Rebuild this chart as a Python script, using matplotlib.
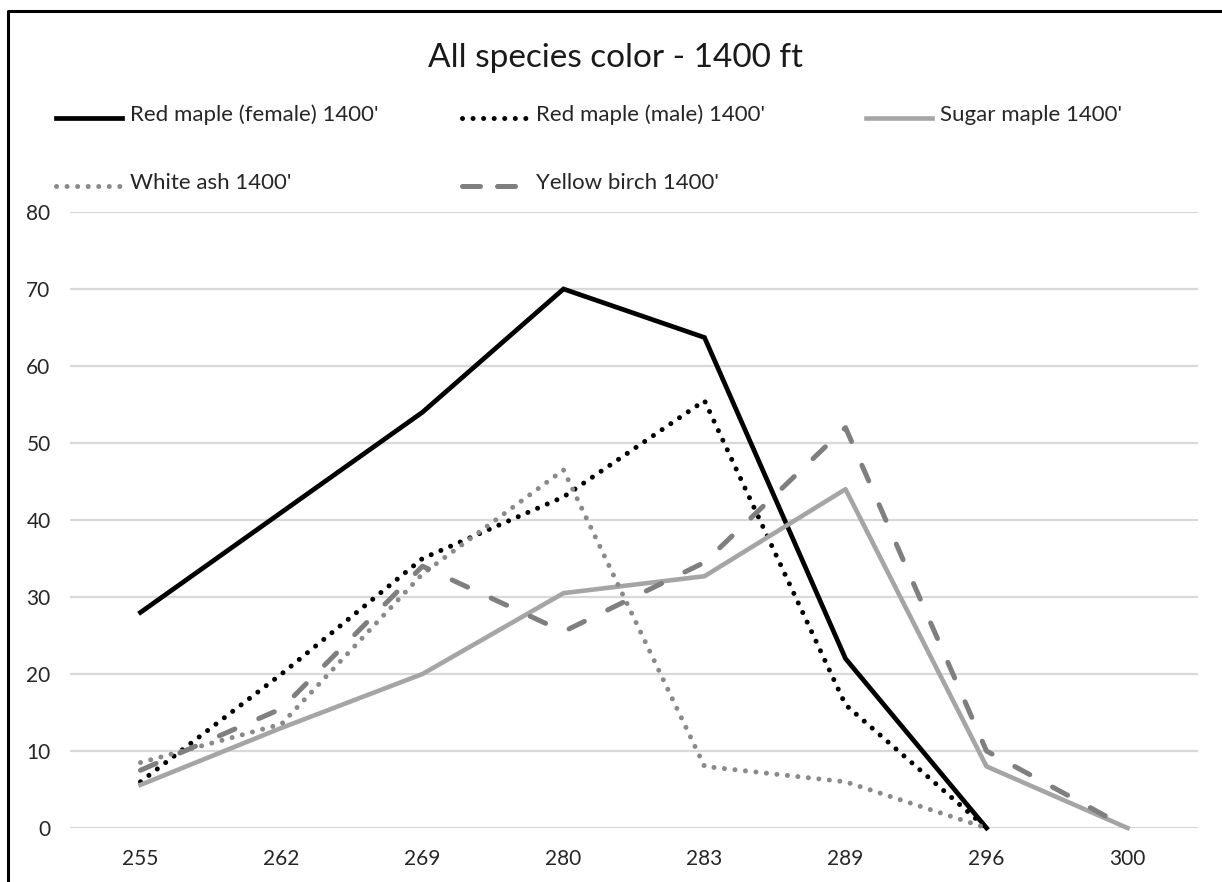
import numpy as np
import matplotlib
matplotlib.use('Agg')
import matplotlib.pyplot as plt
from matplotlib.lines import Line2D

plt.rcParams['font.family'] = ['Lato', 'DejaVu Sans']

# chart data
days = ['255', '262', '269', '280', '283', '289', '296', '300']
red_female = [28, 41, 54, 70, 63.7, 22, 0, np.nan]
red_male = [6, 20, 35, 43, 55.5, 16, 0, np.nan]
sugar_maple = [5.6, 13, 20, 30.5, 32.7, 44, 8, 0]
white_ash = [8.5, 13.5, 33, 46.5, 8, 6, 0, np.nan]
yellow_birch = [7.5, 15.5, 34, 25.5, 34.5, 52, 10, 0]

names = ["Red maple (female) 1400'", "Red maple (male) 1400'", "Sugar maple 1400'",
         "White ash 1400'", "Yellow birch 1400'"]
series = [red_female, red_male, sugar_maple, white_ash, yellow_birch]
styles = [
    dict(color='black', lw=3.4, ls='-', solid_joinstyle='miter'),
    dict(color='black', lw=3.6, ls=(0, (0.01, 2.1)), dash_capstyle='round'),
    dict(color='#a5a5a5', lw=3.3, ls='-'),
    dict(color='#8a8a8a', lw=3.6, ls=(0, (0.01, 2.1)), dash_capstyle='round'),
    dict(color='#7f7f7f', lw=3.6, ls=(0, (3.4, 5.2)), dash_capstyle='round'),
]

W, H = 1222, 882
fig = plt.figure(figsize=(W / 100, H / 100), dpi=100)

# plot area in pixel terms
left, right, top, bottom = 70, 1198, 212, 828
ax = fig.add_axes([left / W, 1 - bottom / H, (right - left) / W, (bottom - top) / H])

x = np.arange(len(days))
for vals, st in zip(series, styles):
    ax.plot(x, vals, clip_on=False, **st)

ax.set_xlim(-0.5, len(days) - 0.5)
ax.set_ylim(0, 80)
ax.set_yticks(range(0, 81, 10))
ax.set_xticks(x)
ax.set_xticklabels(days)
ax.grid(axis='y', color='#d9d9d9', lw=1.6)
ax.set_axisbelow(True)
for s in ax.spines.values():
    s.set_visible(False)
ax.tick_params(length=0, labelsize=15, colors='#262626')
ax.tick_params(axis='x', pad=15)
ax.tick_params(axis='y', pad=14)

# overlay for title, legend and border, in pixel coords
ov = fig.add_axes([0, 0, 1, 1], zorder=-1)
ov.set_xlim(0, W)
ov.set_ylim(H, 0)
ov.axis('off')

ov.text(616, 67, 'All species color - 1400 ft', ha='center', va='baseline',
        fontsize=24, color='#1a1a1a')

# legend, placed by hand like the Excel one
slots = [(54, 118), (460, 118), (864, 118), (54, 186), (460, 186)]
for i, ((lx, ly), name, st) in enumerate(zip(slots, names, styles)):
    st = dict(st)
    if i == 4:
        st['ls'] = (0, (3.6, 3.4))
    ov.add_line(Line2D([lx + 2, lx + 68], [ly, ly], **st))
    ov.text(lx + 76, ly + 3, name, ha='left', va='baseline', fontsize=16, color='#262626')

# chart border (cut at right and bottom edge of picture)
ov.add_line(Line2D([8, 8, W + 5], [H + 5, 10.5, 10.5], color='black', lw=2.2))

fig.savefig('out.png', dpi=100)
